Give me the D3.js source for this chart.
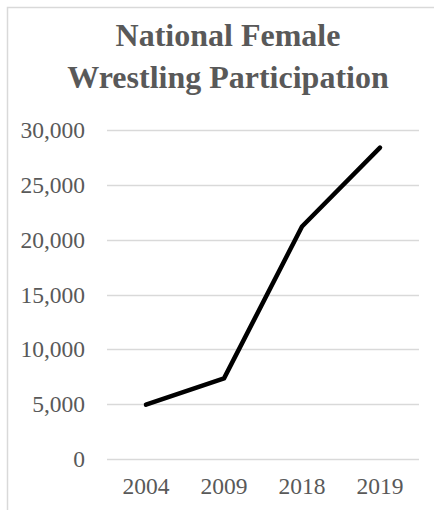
<!DOCTYPE html>
<html>
<head>
<meta charset="utf-8">
<script src="https://cdn.jsdelivr.net/npm/d3@7"></script>
<style>
  body { margin: 0; background: #fff; }
  svg { display: block; }
</style>
</head>
<body>
<script>
// chart data
var years = ["2004", "2009", "2018", "2019"];
var participants = [4950, 7350, 21200, 28400];
var yTicks = [0, 5000, 10000, 15000, 20000, 25000, 30000];
var titleLines = ["National Female", "Wrestling Participation"];

var width = 434,
    height = 510;

var svg = d3.select("body")
  .append("svg")
  .attr("width", width)
  .attr("height", height);

// outer chart border (runs off the right/bottom of the window)
svg.append("rect")
  .attr("x", 7.5)
  .attr("y", 7.5)
  .attr("width", 460)
  .attr("height", 540)
  .attr("fill", "none")
  .attr("stroke", "#d9d9d9")
  .attr("stroke-width", 1.5);

// title
svg.append("text")
  .attr("x", 228)
  .attr("y", 46)
  .style("text-anchor", "middle")
  .style("font-family", "'Liberation Serif', 'Times New Roman', serif")
  .style("font-weight", "bold")
  .style("font-size", "32px")
  .style("fill", "#595959")
  .selectAll("tspan")
  .data(titleLines)
  .enter()
  .append("tspan")
  .attr("x", 228)
  .attr("dy", function(d, i) { return i === 0 ? 0 : 42; })
  .text(function(d) { return d; });

// scales
var x = d3.scaleBand()
  .domain(years)
  .range([107, 419]);

var y = d3.scaleLinear()
  .domain([0, 30000])
  .range([459, 130]);

// gridlines
svg.append("g")
  .selectAll("line")
  .data(yTicks)
  .enter()
  .append("line")
  .attr("x1", 107)
  .attr("x2", 419)
  .attr("y1", function(d) { return Math.round(y(d)) + 0.5; })
  .attr("y2", function(d) { return Math.round(y(d)) + 0.5; })
  .attr("stroke", "#d9d9d9")
  .attr("stroke-width", 1.5);

// y axis labels
var yAxis = d3.axisLeft(y)
  .tickValues(yTicks)
  .tickSize(0)
  .tickPadding(22)
  .tickFormat(d3.format(","));

svg.append("g")
  .attr("transform", "translate(107,0)")
  .call(yAxis)
  .call(function(g) { g.select(".domain").remove(); })
  .selectAll("text")
  .style("font-family", "'Liberation Serif', 'Times New Roman', serif")
  .style("font-size", "23.5px")
  .style("fill", "#595959");

// x axis labels
var xAxis = d3.axisBottom(x)
  .tickSize(0)
  .tickPadding(18);

svg.append("g")
  .attr("transform", "translate(0,459)")
  .call(xAxis)
  .call(function(g) { g.select(".domain").remove(); })
  .selectAll("text")
  .style("font-family", "'Liberation Serif', 'Times New Roman', serif")
  .style("font-size", "23.5px")
  .style("fill", "#595959");

// the line
var line = d3.line()
  .x(function(d, i) { return x(years[i]) + x.bandwidth() / 2; })
  .y(function(d) { return y(d); });

svg.append("path")
  .datum(participants)
  .attr("d", line)
  .attr("fill", "none")
  .attr("stroke", "#000")
  .attr("stroke-width", 4.5)
  .attr("stroke-linejoin", "round")
  .attr("stroke-linecap", "round");
</script>
</body>
</html>
